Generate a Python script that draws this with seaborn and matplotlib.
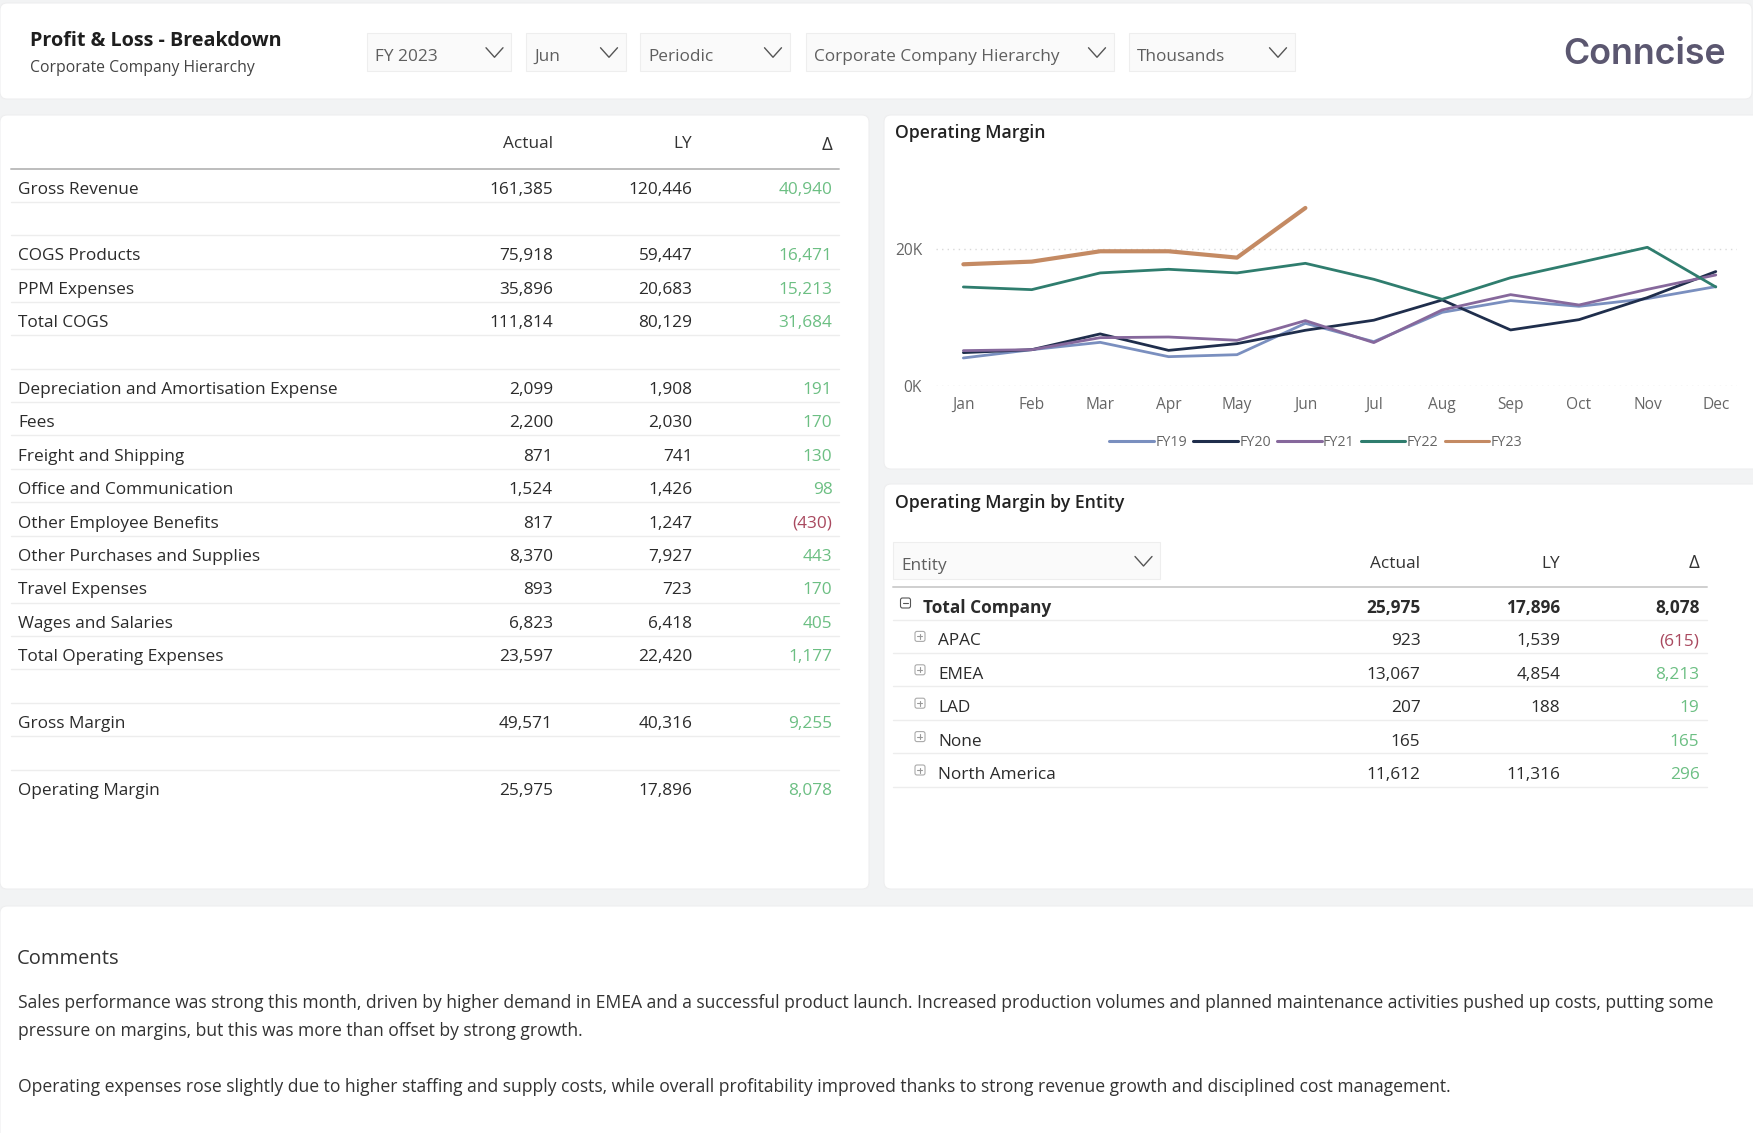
import matplotlib
matplotlib.use("Agg")
import matplotlib.pyplot as plt
from matplotlib.patches import FancyBboxPatch, Rectangle
import seaborn as sns
import pandas as pd

W, H = 1753, 1133
FONT = ["Open Sans", "DejaVu Sans"]

months = ["Jan", "Feb", "Mar", "Apr", "May", "Jun", "Jul", "Aug", "Sep", "Oct", "Nov", "Dec"]
fy19 = [4.09, 5.30, 6.37, 4.28, 4.57, 9.15, 6.47, 10.75, 12.46, 11.63, 12.75, 14.50]
fy20 = [4.87, 5.30, 7.60, 5.20, 6.18, 8.13, 9.60, 12.55, 8.18, 9.68, 12.90, 16.70]
fy21 = [5.16, 5.30, 7.05, 7.15, 6.67, 9.54, 6.33, 11.10, 13.33, 11.82, 14.10, 16.20]
fy22 = [14.45, 14.06, 16.50, 17.03, 16.50, 17.90, 15.57, 12.65, 15.80, 18.00, 20.24, 14.45]
fy23 = [17.76, 18.15, 19.66, 19.66, 18.73, 25.98]
series_names = ["FY19", "FY20", "FY21", "FY22", "FY23"]
series_colors = ["#7A8FBF", "#1F2E4C", "#86689C", "#2F7D6E", "#C48A63"]

pnl_labels = ["Gross Revenue", None, "COGS Products", "PPM Expenses", "Total COGS", None,
              "Depreciation and Amortisation Expense", "Fees", "Freight and Shipping",
              "Office and Communication", "Other Employee Benefits", "Other Purchases and Supplies",
              "Travel Expenses", "Wages and Salaries", "Total Operating Expenses", None,
              "Gross Margin", None, "Operating Margin"]
pnl_actual = [161385, None, 75918, 35896, 111814, None, 2099, 2200, 871, 1524, 817, 8370, 893, 6823,
              23597, None, 49571, None, 25975]
pnl_ly = [120446, None, 59447, 20683, 80129, None, 1908, 2030, 741, 1426, 1247, 7927, 723, 6418,
          22420, None, 40316, None, 17896]
pnl_delta = [40940, None, 16471, 15213, 31684, None, 191, 170, 130, 98, -430, 443, 170, 405,
             1177, None, 9255, None, 8078]

entity_labels = ["Total Company", "APAC", "EMEA", "LAD", "None", "North America"]
entity_actual = [25975, 923, 13067, 207, 165, 11612]
entity_ly = [17896, 1539, 4854, 188, None, 11316]
entity_delta = [8078, -615, 8213, 19, 165, 296]

filters = ["FY 2023", "Jun", "Periodic", "Corporate Company Hierarchy", "Thousands"]
comments = [
    "Sales performance was strong this month, driven by higher demand in EMEA and a successful product launch. Increased production volumes and planned maintenance activities pushed up costs, putting some",
    "pressure on margins, but this was more than offset by strong growth.",
    "Operating expenses rose slightly due to higher staffing and supply costs, while overall profitability improved thanks to strong revenue growth and disciplined cost management.",
]

sns.set_theme(style="white")
plt.rcParams["font.family"] = FONT

GREEN = "#6CBF83"
RED = "#A9495F"
DARK = "#2B2B2B"
GREY = "#5F5F5F"
RULE = "#EDEDED"

fig = plt.figure(figsize=(W / 100, H / 100), dpi=100, facecolor="#F2F3F4")
bg = fig.add_axes([0, 0, 1, 1])
bg.set_xlim(0, W)
bg.set_ylim(H, 0)
bg.axis("off")


def panel(x0, y0, x1, y1):
    bg.add_patch(FancyBboxPatch((x0, y0), x1 - x0, y1 - y0, boxstyle="round,pad=0,rounding_size=7",
                                fc="white", ec="#EEEEEF", lw=0.8))


def label(x, y, s, size=12.45, color=DARK, ha="left", weight="normal"):
    bg.text(x, y + 2, s, fontsize=size, color=color, ha=ha, va="center", fontweight=weight)


def fmt(v):
    if v is None:
        return ""
    return f"({-v:,})" if v < 0 else f"{v:,}"


def chevron(cx, cy):
    bg.plot([cx - 8.5, cx, cx + 8.5], [cy - 5, cy + 4.5, cy - 5], color="#555555", lw=1.0)


def dropdown(x0, y0, x1, y1, s):
    bg.add_patch(Rectangle((x0, y0), x1 - x0, y1 - y0, fc="#FAFAFA", ec="#EEEEEE", lw=0.8))
    label(x0 + 8, (y0 + y1) / 2 + 3, s, color=GREY)
    chevron(x1 - 17, (y0 + y1) / 2 + 1)


def expander(cx, cy, minus=False):
    bg.add_patch(FancyBboxPatch((cx - 5, cy - 5), 10, 10, boxstyle="round,pad=0,rounding_size=2",
                                fc="white", ec="#555555" if minus else "#AAAAAA", lw=0.8))
    col = "#555555" if minus else "#999999"
    bg.plot([cx - 2.5, cx + 2.5], [cy, cy], color=col, lw=0.8)
    if not minus:
        bg.plot([cx, cx], [cy - 2.5, cy + 2.5], color=col, lw=0.8)


panel(0, 3, W - 1, 99)
panel(0, 115, 869, 889)
panel(884, 115, W + 10, 469)
panel(884, 484, W + 10, 889)
panel(0, 906, W + 10, H + 10)

# header
label(30, 39, "Profit & Loss - Breakdown", size=14.2, color="#1E1E1E", weight="bold")
label(30, 66.5, "Corporate Company Hierarchy", size=11.3, color="#444444")
boxes = [(367, 511.5), (526, 626), (640, 790), (806, 1114), (1129, 1295)]
for (x0, x1), s in zip(boxes, filters):
    dropdown(x0, 33, x1, 70.5, s)
bg.text(1726, 54, "Conncise", fontsize=25.8, color="#5B5770", ha="right", va="center",
        fontweight=600, family=["Inter", "DejaVu Sans"])

# left table
label(553, 142.5, "Actual", ha="right", color="#333333")
label(692.5, 142.5, "LY", ha="right", color="#333333")
label(832.5, 142.5, "\u0394", size=13.5, ha="right", color="#333333")
bg.plot([11, 839], [168.5, 168.5], color="#BDBDBD", lw=1.4)
for i, name in enumerate(pnl_labels):
    y = 187.5 + 33.4 * i
    if i < len(pnl_labels) - 1:
        bg.plot([11, 839], [y + 14.2, y + 14.2], color=RULE, lw=1.0)
    if name is None:
        continue
    label(18, y, name)
    label(553, y, fmt(pnl_actual[i]), ha="right")
    label(692.5, y, fmt(pnl_ly[i]), ha="right")
    d = pnl_delta[i]
    label(832.5, y, fmt(d), ha="right", color=RED if d < 0 else GREEN)

# line chart
bg.text(895, 133.5, "Operating Margin", fontsize=12.7, color="#222222", ha="left", va="center", fontweight=600)
lines = pd.concat([
    pd.DataFrame({"month": months[:len(v)], "value": v, "fy": n})
    for n, v in zip(series_names, [fy19, fy20, fy21, fy22, fy23])
])
ax = fig.add_axes([936 / W, 1 - 386 / H, (1737 - 936) / W, 196 / H])
ax.patch.set_alpha(0)
sns.lineplot(data=lines, x="month", y="value", hue="fy", size="fy", palette=dict(zip(series_names, series_colors)),
             sizes={"FY19": 2.0, "FY20": 2.0, "FY21": 2.0, "FY22": 2.0, "FY23": 3.0},
             sort=False, estimator=None, ax=ax, legend=True)
ax.set_xlim(-0.40, 11.31)
ax.set_ylim(0, 28.6)
ax.set_yticks([0, 20])
ax.set_yticklabels(["0K", "20K"])
ax.set_xlabel("")
ax.set_ylabel("")
ax.grid(axis="y", color="#D9D9D9", ls=(0, (1, 3)), lw=1.0)
ax.grid(axis="x", visible=False)
ax.set_axisbelow(True)
for s in ax.spines.values():
    s.set_visible(False)
ax.tick_params(axis="both", length=0, labelsize=11.2, labelcolor="#666666")
ax.tick_params(axis="x", pad=8)
ax.tick_params(axis="y", pad=10)
handles, names = ax.get_legend_handles_labels()
leg = ax.legend(handles, names, ncol=5, frameon=False, fontsize=10.3, loc="center",
                bbox_to_anchor=((1316 - 936) / 801, -0.287),
                handlelength=3.1, handletextpad=0.1, columnspacing=0.45, labelcolor="#666666")
for h in leg.get_lines():
    h.set_linewidth(2.2)

# entity table
bg.text(895, 503.5, "Operating Margin by Entity", fontsize=12.7, color="#222222", ha="left", va="center", fontweight=600)
dropdown(893, 542, 1160.5, 579, "Entity")
label(1420.5, 561.5, "Actual", ha="right", color="#333333")
label(1560.5, 561.5, "LY", ha="right", color="#333333")
label(1699.5, 561.5, "\u0394", size=13.5, ha="right", color="#333333")
bg.plot([893, 1707], [587, 587], color="#CFCFCF", lw=1.4)
for i, name in enumerate(entity_labels):
    y = 606 + 33.4 * i
    bold = i == 0
    wt = "bold" if bold else "normal"
    bg.plot([893, 1707], [y + 13.5, y + 13.5], color=RULE, lw=1.0)
    expander(905.5 if bold else 920, y - 3, minus=bold)
    label(923.5 if bold else 938, y, name, weight=wt)
    label(1420.5, y, fmt(entity_actual[i]), ha="right", weight=wt)
    label(1560.5, y, fmt(entity_ly[i]), ha="right", weight=wt)
    d = entity_delta[i]
    label(1699.5, y, fmt(d), ha="right", weight=wt, color=DARK if bold else (RED if d < 0 else GREEN))

# comments
label(17, 957, "Comments", size=14.5, color="#333333")
label(18, 1001.5, comments[0], size=12.65, color="#333333")
label(18, 1029.5, comments[1], size=12.65, color="#333333")
label(18, 1085.5, comments[2], size=12.65, color="#333333")

fig.savefig("out.png", dpi=100, facecolor=fig.get_facecolor())
